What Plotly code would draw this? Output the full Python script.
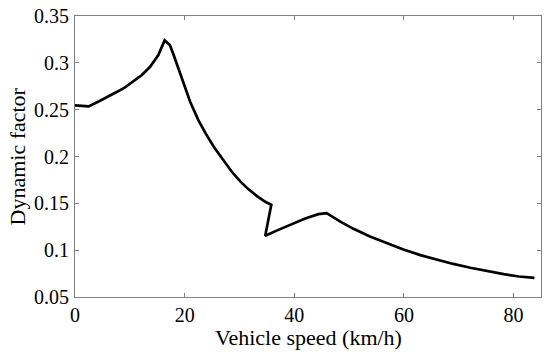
import plotly.graph_objects as go

speed = [0, 2.5, 4.56, 6.08, 7.6, 9.12, 10.6, 12.2, 13.7, 15.2, 16.35,
         17.3, 17.9, 19.5, 21.0, 22.5, 24.0, 25.5, 27.1, 28.6, 30.1, 31.6, 33.2, 34.7, 35.8,
         34.7, 37.3, 39.8, 42.0, 44.4, 45.9,
         48.4, 50.8, 53.8, 56.9, 59.9, 63.0, 66.0, 69.0, 72.1, 75.1, 78.2, 81.0, 83.8]
dynamic_factor = [0.2545, 0.2535, 0.2595, 0.2638, 0.2688, 0.2738, 0.2798, 0.2870, 0.2958, 0.3083, 0.3240,
                  0.3190, 0.3100, 0.2834, 0.2584, 0.2389, 0.2229, 0.2087, 0.1951, 0.1837, 0.1737, 0.1652,
                  0.1577, 0.1516, 0.1485,
                  0.1155, 0.1222, 0.1285, 0.1338, 0.1385, 0.1395,
                  0.1305, 0.1228, 0.1145, 0.1071, 0.1007, 0.0947, 0.0898, 0.0853, 0.0812, 0.0776,
                  0.0744, 0.0719, 0.0704]

x_ticks = [0, 20, 40, 60, 80]
y_ticks = [0.05, 0.1, 0.15, 0.2, 0.25, 0.3, 0.35]
y_labels = ["0.05", "0.1", "0.15", "0.2", "0.25", "0.3", "0.35"]
x_title = "Vehicle speed (km/h)"
y_title = "Dynamic factor"

FONT = "'Liberation Serif', 'Times New Roman', serif"

fig = go.Figure()
fig.add_trace(go.Scatter(x=speed, y=dynamic_factor, mode="lines",
                         line=dict(color="black", width=2.7), showlegend=False))

axis_common = dict(showgrid=False, zeroline=False, showline=True, linecolor="#808080",
                   linewidth=1, mirror="ticks", ticks="inside", ticklen=4, automargin=False,
                   tickcolor="#808080", tickfont=dict(family=FONT, size=20, color="black"))

fig.update_xaxes(range=[0, 85], tickvals=x_ticks, ticklabelstandoff=0, **axis_common)
fig.update_yaxes(range=[0.05, 0.35], tickvals=y_ticks, ticktext=y_labels,
                 ticklabelstandoff=1, **axis_common)

fig.add_annotation(text=x_title, xref="paper", yref="paper", x=0.5, y=0,
                   xanchor="center", yanchor="middle", yshift=-40, showarrow=False,
                   font=dict(family=FONT, size=22, color="black"))
fig.add_annotation(text=y_title, xref="paper", yref="paper", x=0, y=0.5, textangle=-90,
                   xanchor="center", yanchor="middle", xshift=-58, showarrow=False,
                   font=dict(family=FONT, size=22, color="black"))

fig.update_layout(width=550, height=353, margin=dict(l=75, r=9, t=16, b=56),
                  font=dict(family=FONT, color="black"),
                  plot_bgcolor="white", paper_bgcolor="white")

fig.write_html("out.html", config={"displayModeBar": False},
               post_script="document.body.style.margin='0';document.body.style.overflow='hidden';")
